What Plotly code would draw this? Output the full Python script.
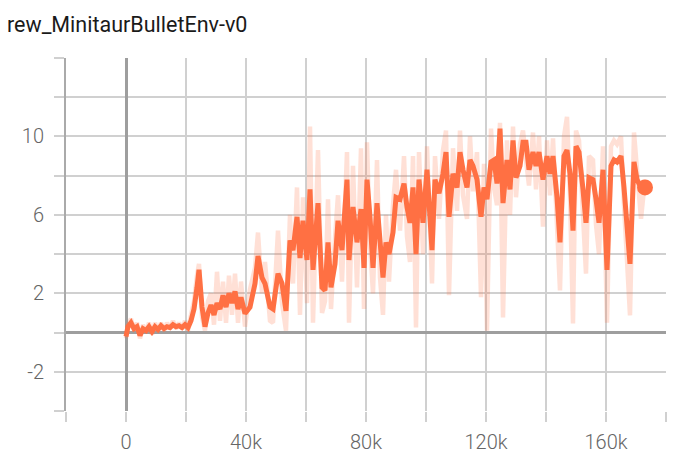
import plotly.graph_objects as go

# steps (training steps) and values
steps = [0, 667, 1667, 2667, 3667, 4667, 5667, 6667, 7667, 8667, 9667, 10667, 11667, 12667,
         13667, 14667, 15667, 16667, 17667, 18667, 19667, 20667, 21667, 22667, 23667, 24333,
         25333, 26333, 27333, 28333, 29333, 30333, 31333, 32333, 33333, 34333, 35333, 36333,
         37333, 38333, 39667, 41333, 43000, 44000, 45333, 46333, 48000, 49000, 50667, 52000,
         53333, 54667, 55667, 57000, 58000, 59000, 60333, 61333, 62333, 64000, 65333, 66333,
         67333, 68333, 69667, 70667, 72000, 73667, 74333, 75667, 77000, 78333, 79333, 80333,
         81333, 82333, 83667, 84667, 85667, 86667, 87667, 89000, 90000, 91333, 92667, 93667,
         94667, 95667, 96667, 97667, 99000, 100333, 102000, 103000, 104333, 105667, 106667,
         107667, 109000, 110333, 111333, 112333, 113667, 114667, 115667, 117000, 118333,
         119333, 120333, 121667, 122667, 123667, 124667, 125667, 127000, 128000, 129000,
         130000, 131333, 132333, 133333, 134333, 135667, 136667, 137667, 139000, 140333,
         141333, 142333, 143667, 144667, 146000, 147000, 148000, 149000, 150000, 151000,
         152333, 153333, 154333, 155667, 156667, 157667, 159000, 159667, 160333, 161667,
         162667, 163667, 165000, 166000, 167000, 168000, 169333, 170333, 171667, 173000]

smoothed = [-0.2, 0.3, 0.5, 0.2, 0.3, -0.15, 0.2, 0.1, 0.3, 0.05, 0.3, 0.15, 0.35, 0.2,
            0.3, 0.25, 0.4, 0.3, 0.35, 0.25, 0.4, 0.25, 0.6, 1.2, 2.3, 3.2,
            1.3, 0.3, 1.0, 1.4, 0.9, 1.5, 1.2, 1.9, 1.3, 2.0, 1.5, 2.1,
            1.2, 1.8, 0.97, 1.3, 2.5, 3.9, 2.8, 2.5, 1.3, 1.2, 3.0, 2.5,
            1.1, 4.7, 4.2, 5.9, 3.8, 5.7, 3.7, 7.3, 3.2, 6.6, 2.3, 2.15,
            4.6, 2.3, 3.5, 5.7, 4.2, 7.8, 3.7, 6.4, 4.6, 6.3, 3.3, 7.8,
            5.9, 3.3, 6.6, 4.7, 2.8, 4.6, 4.0, 5.1, 6.9, 6.8, 7.6, 6.4,
            5.6, 7.4, 4.0, 7.8, 5.6, 8.3, 4.2, 7.8, 7.1, 8.1, 9.2,
            5.9, 8.1, 7.4, 9.2, 8.3, 7.4, 8.8, 8.5, 7.8, 5.9,
            7.4, 6.8, 8.7, 8.8, 7.6, 10.4, 6.6, 8.8, 7.3, 9.8,
            7.9, 8.5, 9.7, 9.7, 8.3, 9.2, 8.5, 9.2, 7.8, 9.0,
            8.1, 9.0, 6.9, 4.6, 9.0, 9.3, 8.1, 5.2, 9.5, 9.2,
            7.3, 5.6, 7.9, 7.8, 6.8, 5.6, 8.3, 6.1, 3.2, 8.5,
            8.8, 8.7, 9.0, 7.4, 5.4, 3.5, 8.7, 7.8, 7.4, 7.4]

raw = [-0.3, 0.4, 0.7, 0.1, 0.5, -0.3, 0.4, 0.0, 0.5, -0.1, 0.5, 0.1, 0.5, 0.1,
       0.5, 0.2, 0.6, 0.2, 0.5, 0.2, 0.6, 0.1, 0.9, 1.6, 2.9, 3.5,
       0.8, 0.1, 1.6, 2.0, 0.4, 3.1, 0.6, 2.6, 0.5, 2.9, 0.9, 3.0,
       0.5, 2.6, 0.3, 2.2, 3.3, 5.1, 2.0, 3.6, 0.6, 0.5, 5.2, 1.5,
       0.1, 6.0, 2.5, 7.4, 0.9, 6.9, 1.5, 10.5, 0.5, 9.3, 1.0, 1.6,
       6.8, 1.2, 4.8, 7.0, 2.6, 9.2, 0.5, 8.5, 2.3, 9.4, 1.2, 9.7,
       4.5, 2.0, 8.8, 2.8, 0.9, 6.0, 2.6, 6.5, 8.3, 5.2, 9.0, 4.9,
       3.6, 9.0, 0.26, 9.2, 4.0, 9.5, 2.5, 9.0, 5.8, 9.3, 10.3,
       1.9, 9.4, 6.2, 10.3, 7.0, 5.8, 10.0, 7.2, 9.2, 1.8,
       8.6, 0.1, 10.4, 7.4, 6.5, 10.7, 0.77, 9.8, 6.0, 10.5,
       6.9, 9.6, 10.3, 8.8, 7.5, 10.2, 7.3, 10.0, 5.4, 9.8,
       7.0, 9.9, 5.2, 2.15, 10.0, 11.0, 7.0, 0.46, 10.3, 9.8,
       6.0, 3.0, 9.0, 8.8, 5.5, 4.0, 9.5, 4.5, 0.5, 9.5,
       9.8, 9.6, 10.0, 6.5, 3.5, 0.87, 10.2, 8.2, 5.8, 7.8]

x_tickvals = [-20000, 0, 20000, 40000, 60000, 80000, 100000, 120000, 140000, 160000, 180000]
x_ticktext = ["", "0", "", "40k", "", "80k", "", "120k", "", "160k", ""]
y_tickvals = [-4, -2, 0, 2, 4, 6, 8, 10, 12, 14]
y_ticktext = ["", "-2", "", "2", "", "6", "", "10", "", ""]

ORANGE = "#ff7043"
W, H = 680, 460
ML, MR, MT, MB = 66, 14, 58, 49

fig = go.Figure()
fig.add_trace(go.Scatter(x=steps, y=raw, mode="lines",
                         line=dict(color="rgba(255,112,67,0.22)", width=4.5),
                         hoverinfo="skip", showlegend=False))
fig.add_trace(go.Scatter(x=steps, y=smoothed, mode="lines",
                         line=dict(color=ORANGE, width=5),
                         showlegend=False))
fig.add_trace(go.Scatter(x=[steps[-1]], y=[smoothed[-1]], mode="markers",
                         marker=dict(color=ORANGE, size=16),
                         showlegend=False))

tick_font = dict(family="Roboto Light, Roboto", size=20, color="#666666", weight=300)

fig.update_layout(
    width=W, height=H,
    margin=dict(l=ML, r=MR, t=MT, b=MB),
    paper_bgcolor="white", plot_bgcolor="white",
    annotations=[dict(text="rew_MinitaurBulletEnv-v0",
                      x=(5 - ML) / (W - ML - MR), y=1 + (MT - 24) / (H - MT - MB),
                      xref="paper", yref="paper", showarrow=False,
                      xanchor="left", yanchor="middle",
                      font=dict(family="Roboto", size=21.5, color="#1a1a1a"))],
    xaxis=dict(range=[-20000, 180000], tickvals=x_tickvals, ticktext=x_ticktext,
               showgrid=True, gridcolor="#d0d0d0", gridwidth=1.5,
               zeroline=True, zerolinecolor="#9e9e9e", zerolinewidth=2.5,
               ticks="outside", ticklen=10, tickcolor="#d0d0d0", tickwidth=1.5,
               showline=False, tickfont=tick_font, ticklabelstandoff=3,
               automargin=False),
    yaxis=dict(range=[-4, 14], tickvals=y_tickvals, ticktext=y_ticktext,
               showgrid=True, gridcolor="#d0d0d0", gridwidth=1.5,
               zeroline=True, zerolinecolor="#9e9e9e", zerolinewidth=2.5,
               ticks="outside", ticklen=10, tickcolor="#d0d0d0", tickwidth=1.5,
               showline=True, linecolor="#aaaaaa", linewidth=2,
               tickfont=tick_font, ticklabelstandoff=6, automargin=False),
)

fig.write_html("out.html", config={"displayModeBar": False},
               post_script="document.body.style.margin='0';")
